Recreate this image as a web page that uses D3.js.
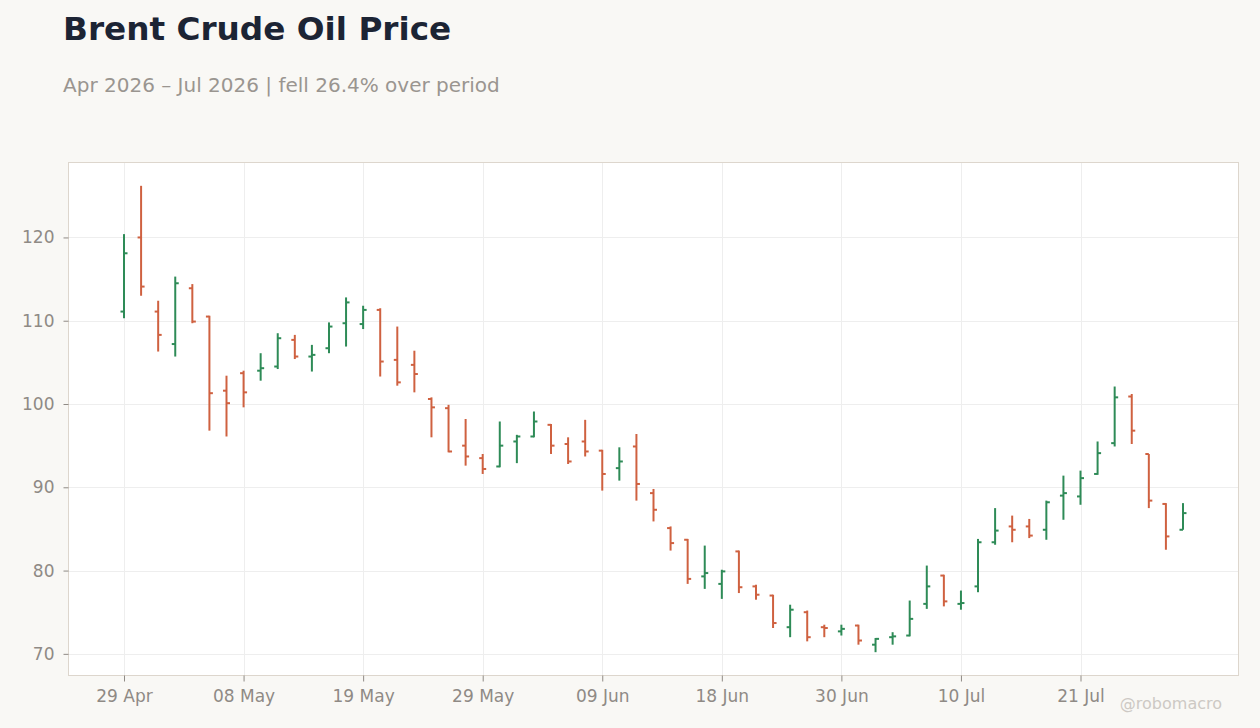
<!DOCTYPE html>
<html>
<head>
<meta charset="utf-8">
<script src="https://cdn.jsdelivr.net/npm/d3@7"></script>
<style>
  html, body { margin: 0; padding: 0; background: #f9f8f5; }
  svg { display: block; font-family: "DejaVu Sans", sans-serif; }
</style>
</head>
<body>
<svg id="chart" width="1260" height="728"></svg>
<script>
// ---- data ----
const dates = [
  "2026-04-29","2026-04-30","2026-05-01","2026-05-04","2026-05-05","2026-05-06","2026-05-07","2026-05-08",
  "2026-05-11","2026-05-12","2026-05-13","2026-05-14","2026-05-15","2026-05-18","2026-05-19",
  "2026-05-20","2026-05-21","2026-05-22","2026-05-26","2026-05-27","2026-05-28","2026-05-29",
  "2026-06-01","2026-06-02","2026-06-03","2026-06-04","2026-06-05","2026-06-08","2026-06-09",
  "2026-06-10","2026-06-11","2026-06-12","2026-06-15","2026-06-16","2026-06-17","2026-06-18",
  "2026-06-22","2026-06-23","2026-06-24","2026-06-25","2026-06-26","2026-06-29","2026-06-30",
  "2026-07-01","2026-07-02","2026-07-06","2026-07-07","2026-07-08","2026-07-09","2026-07-10",
  "2026-07-13","2026-07-14","2026-07-15","2026-07-16","2026-07-17","2026-07-20","2026-07-21",
  "2026-07-22","2026-07-23","2026-07-24","2026-07-27","2026-07-28","2026-07-29"
];
const open  = [111.1,120.0,111.1,107.2,113.9,110.5,101.6,103.7,104.0,104.5,107.7,105.7,106.7,109.7,109.6,111.3,105.3,104.7,100.6,99.5,95.0,93.5,92.5,95.5,96.1,97.5,95.2,95.5,94.4,92.3,94.9,89.3,85.1,83.7,79.3,78.4,82.3,78.1,77.0,73.2,75.0,73.2,72.7,73.4,71.1,72.0,72.2,76.0,79.4,76.0,78.1,83.4,85.3,85.3,84.9,89.0,88.9,91.6,95.3,100.9,94.0,88.0,84.9];
const high  = [120.4,126.2,112.4,115.3,114.4,110.6,103.4,104.0,106.1,108.5,108.3,107.1,109.8,112.8,111.8,111.5,109.3,106.4,100.8,99.9,98.2,94.0,97.9,96.3,99.1,97.6,96.0,98.1,94.5,94.8,96.4,89.8,85.3,83.8,83.0,80.1,82.4,78.3,77.1,75.9,75.2,73.5,73.5,73.5,71.9,72.6,76.4,80.6,79.5,77.6,83.8,87.5,86.6,86.2,88.4,91.4,92.0,95.5,102.1,101.2,94.0,88.1,88.1];
const low   = [110.3,113.0,106.3,105.7,109.7,96.8,96.1,99.6,102.8,104.2,105.4,103.9,106.1,106.9,109.0,103.3,102.2,101.4,96.0,94.2,92.6,91.6,92.4,92.9,96.0,94.0,92.8,93.7,89.6,90.8,88.4,85.9,82.4,78.4,77.8,76.6,77.3,76.5,73.1,72.0,71.5,72.0,72.2,71.1,70.2,71.1,72.1,75.4,75.7,75.3,77.4,83.1,83.4,83.9,83.7,86.1,87.9,91.5,94.9,95.2,87.5,82.5,84.9];
const close = [118.1,114.1,108.3,114.5,109.9,101.3,100.1,101.4,104.3,107.9,105.7,105.9,109.3,112.2,111.3,105.1,102.6,103.6,99.6,94.3,93.7,92.2,95.0,96.1,97.9,95.0,93.1,94.3,91.6,93.1,90.4,87.3,83.3,79.0,79.7,79.9,78.0,77.1,73.7,75.3,72.0,73.1,73.0,71.6,71.8,72.1,74.2,78.1,76.3,76.1,83.4,84.8,84.9,84.2,88.2,89.3,91.1,94.1,100.8,96.8,88.4,84.1,86.9];
const yTicks = [70, 80, 90, 100, 110, 120];
const xTickEvery = 7;
const title = "Brent Crude Oil Price";
const subtitle = "Apr 2026 \u2013 Jul 2026 | fell 26.4% over period";
const credit = "@robomacro";

// ---- layout ----
const W = 1260, H = 728;
const plot = { left: 68.5, top: 162.5, right: 1238.5, bottom: 675.5 };
const UP = "#2e8b57", DOWN = "#cf6140";

const parse = d3.timeParse("%Y-%m-%d");
const fmt = d3.timeFormat("%d %b");
const bars = dates.map((d, i) => ({ i, date: parse(d), o: open[i], h: high[i], l: low[i], c: close[i] }));

const svg = d3.select("#chart");
svg.append("rect").attr("width", W).attr("height", H).attr("fill", "#f9f8f5");

svg.append("text").attr("x", 63).attr("y", 39.5)
  .attr("font-size", 32.7).attr("font-weight", "bold").attr("fill", "#1c2434").text(title);
svg.append("text").attr("x", 63).attr("y", 92)
  .attr("font-size", 20).attr("fill", "#9a9590").text(subtitle);

const n = bars.length;
const pad = 3.25;
const x = d3.scaleLinear().domain([-pad, n - 1 + pad]).range([plot.left, plot.right]);
const lo = d3.min(low), hi = d3.max(high), span = hi - lo;
const y = d3.scaleLinear().domain([lo - 0.05 * span, hi + 0.05 * span]).range([plot.bottom, plot.top]);

svg.append("rect").attr("x", plot.left).attr("y", plot.top)
  .attr("width", plot.right - plot.left).attr("height", plot.bottom - plot.top)
  .attr("fill", "#ffffff");

const xTickIdx = d3.range(0, n, xTickEvery);

// gridlines
const grid = svg.append("g").attr("stroke", "#eeeeee").attr("stroke-width", 1);
grid.selectAll("line.h").data(yTicks).join("line").attr("class", "h")
  .attr("x1", plot.left).attr("x2", plot.right)
  .attr("y1", d => Math.round(y(d)) + 0.5).attr("y2", d => Math.round(y(d)) + 0.5);
grid.selectAll("line.v").data(xTickIdx).join("line").attr("class", "v")
  .attr("y1", plot.top).attr("y2", plot.bottom)
  .attr("x1", d => Math.round(x(d)) + 0.5).attr("x2", d => Math.round(x(d)) + 0.5);

// frame
svg.append("rect").attr("x", plot.left).attr("y", plot.top)
  .attr("width", plot.right - plot.left).attr("height", plot.bottom - plot.top)
  .attr("fill", "none").attr("stroke", "#ddd6cd").attr("stroke-width", 1);

// axes
const yAxis = d3.axisLeft(y).tickValues(yTicks).tickSize(5).tickPadding(9).tickFormat(d3.format("d"));
const gy = svg.append("g").attr("transform", `translate(${plot.left},0)`).call(yAxis);
const xAxis = d3.axisBottom(x).tickValues(xTickIdx).tickSize(6).tickPadding(8.5)
  .tickFormat(i => fmt(bars[i].date));
const gx = svg.append("g").attr("transform", `translate(0,${plot.bottom})`).call(xAxis);
[gx, gy].forEach(g => {
  g.select(".domain").remove();
  g.selectAll(".tick line").attr("stroke", "#8f8a85");
  g.selectAll(".tick text").attr("fill", "#8f8a85").attr("font-size", 17)
    .attr("font-family", "DejaVu Sans, sans-serif");
});

// OHLC bars
const tickLen = 3.5;
const g = svg.append("g").attr("stroke-width", 2).attr("fill", "none");
const bar = g.selectAll("g.bar").data(bars).join("g").attr("class", "bar")
  .attr("stroke", d => d.c >= d.o ? UP : DOWN);
bar.append("line")
  .attr("x1", d => x(d.i)).attr("x2", d => x(d.i))
  .attr("y1", d => y(d.h)).attr("y2", d => y(d.l));
bar.append("line")
  .attr("x1", d => x(d.i) - tickLen).attr("x2", d => x(d.i))
  .attr("y1", d => y(d.o)).attr("y2", d => y(d.o));
bar.append("line")
  .attr("x1", d => x(d.i)).attr("x2", d => x(d.i) + tickLen)
  .attr("y1", d => y(d.c)).attr("y2", d => y(d.c));

svg.append("text").attr("x", 1222).attr("y", 709).attr("text-anchor", "end")
  .attr("font-size", 16).attr("fill", "#cdc9c4").text(credit);
</script>
</body>
</html>
